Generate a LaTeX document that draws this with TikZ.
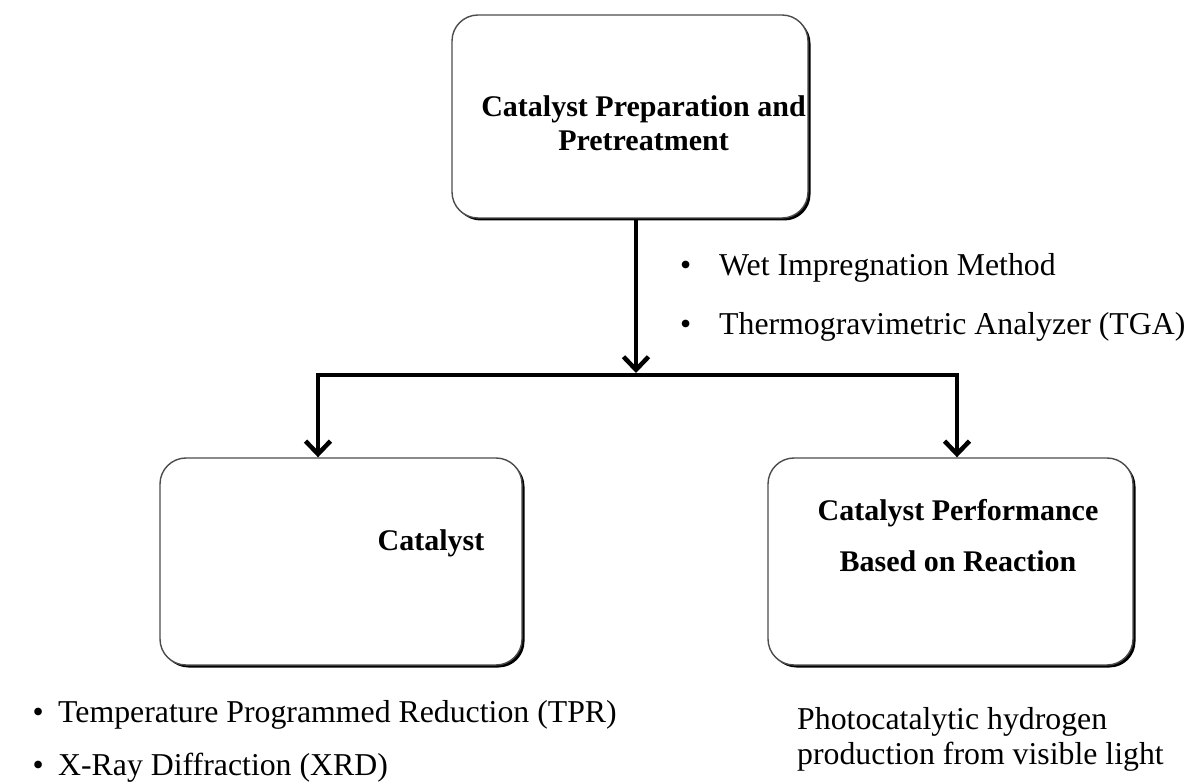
\documentclass[tikz,border=0pt]{standalone}
\usepackage{fontspec}
\setmainfont{Liberation Serif}
\usetikzlibrary{arrows.meta,shadows}
\begin{document}
\begin{tikzpicture}[x=1pt,y=-1pt,
  box/.style={draw=black!70, line width=1.4pt, rounded corners=26pt, fill=white,
    drop shadow={shadow xshift=2.5pt, shadow yshift=-2.5pt, fill=black, opacity=1},
    inner sep=0pt},
  title/.style={font=\bfseries\fontsize{30}{34}\selectfont, inner sep=0pt},
  body/.style={font=\fontsize{31.8}{35}\selectfont, inner sep=0pt},
  conn/.style={line width=4.5pt},
  arr/.style={line width=4.5pt, -{Straight Barb[length=13pt,width=25pt,line width=4.5pt]}}]
\useasboundingbox (0,0) rectangle (1187,783);

% boxes
\node[box, minimum width=356pt, minimum height=203pt] (prep) at (630,116.5) {};
\node[box, minimum width=362pt, minimum height=207pt] (char) at (341,561.5) {};
\node[box, minimum width=365pt, minimum height=207pt] (perf) at (950.5,561.5) {};

% box texts
\node[title, align=center] (preptxt) at (643.5,123) {Catalyst Preparation and\\Pretreatment};
\node[title] (chartxt) at (431,543) {Catalyst};
\node[title] (perf1) at (958,513) {Catalyst Performance};
\node[title] (perf2) at (958,561) {Based on Reaction};

% connectors
\coordinate (jm) at (636,375);
\coordinate (jl) at (318,375);
\coordinate (jr) at (957,375);
\draw[arr] (jm |- prep.south) -- ([yshift=2pt]jm);
\draw[conn, line cap=rect] (jl) -- (jr);
\draw[arr] (jl) -- (jl |- char.north);
\draw[arr] (jr) -- (jr |- perf.north);

% bullet texts
\node[body, anchor=west] (wet) at (719,268) {\makebox[0pt][r]{•\hspace{28pt}}Wet Impregnation Method};
\node[body, anchor=west] (tga) at (719,327) {\makebox[0pt][r]{•\hspace{28pt}}Thermogravimetric Analyzer (TGA)};
\node[body, anchor=west] (tpr) at (58,715) {\makebox[0pt][r]{•\hspace{14.5pt}}Temperature Programmed Reduction (TPR)};
\node[body, anchor=west] (xrd) at (58,768) {\makebox[0pt][r]{•\hspace{14.5pt}}X-Ray Diffraction (XRD)};
\node[body, align=left, anchor=west] (photo) at (797,739.5) {Photocatalytic hydrogen\\production from visible light};
\end{tikzpicture}
\end{document}
